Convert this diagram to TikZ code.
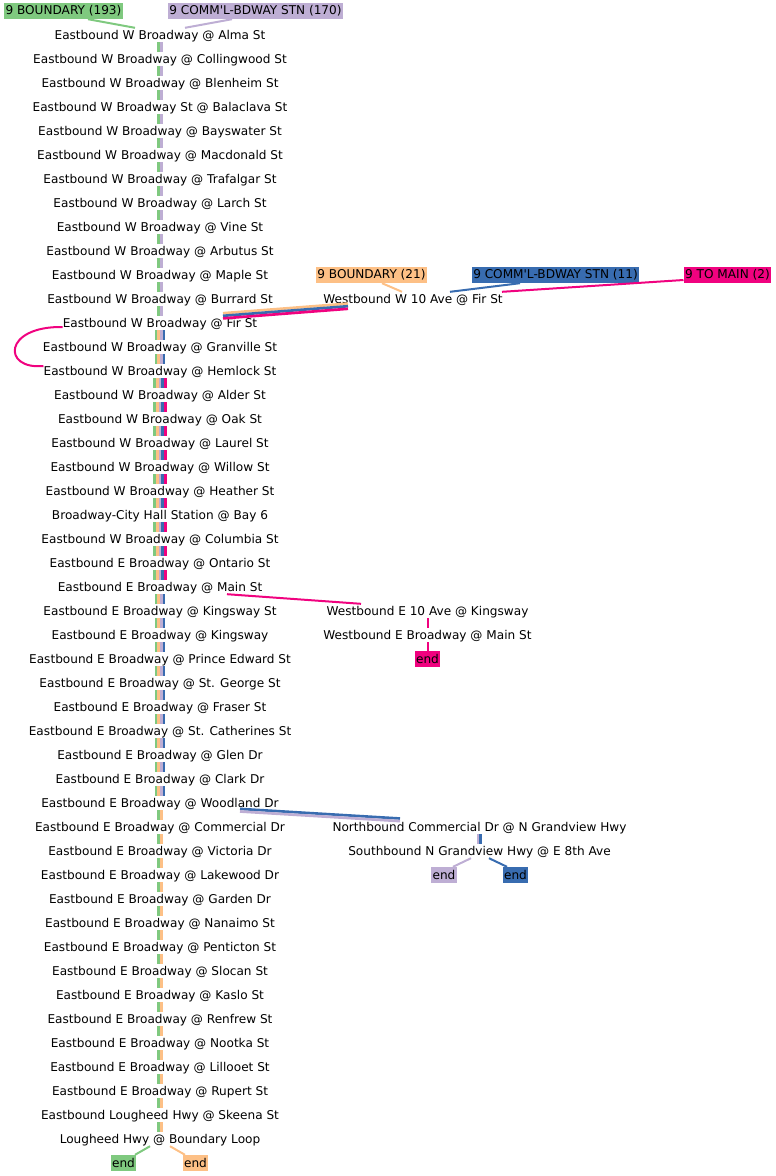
\documentclass[tikz,border=0pt]{standalone}
\usepackage{fontspec}
\setmainfont{DejaVu Sans}
\usepackage{xcolor}
\usetikzlibrary{positioning}

\definecolor{acgreen}{HTML}{7FC97F}
\definecolor{acpurple}{HTML}{BEAED4}
\definecolor{acorange}{HTML}{FDC086}
\definecolor{acblue}{HTML}{386CB0}
\definecolor{acpink}{HTML}{F0027F}

\begin{document}
\begin{tikzpicture}[x=1pt, y=-1pt, node distance=24pt, on grid, every node/.style={font=\fontsize{12.1}{14}\selectfont}]
    % Styles
    \tikzstyle{stopnode} = [inner sep=0pt, minimum height=14pt, text height=10.5pt, text depth=1.5pt]
    \tikzstyle{routetag} = [inner xsep=1.5pt, inner ysep=0pt, minimum height=16pt, text=black]
    \tikzstyle{strip} = [line width=2.67pt]
    \tikzstyle{link} = [line width=2pt]

    \useasboundingbox (0,0) rectangle (776,1176);

    % Route tags
    \node[routetag, fill=acgreen] (tag193) at (63.5,11) {9 BOUNDARY (193)};
    \node[routetag, fill=acpurple] (tag170) at (255.5,11) {9 COMM\textquotesingle L-BDWAY STN (170)};
    \node[routetag, fill=acorange] (tag21) at (371.5,275) {9 BOUNDARY (21)};
    \node[routetag, fill=acblue] (tag11) at (555.5,275) {9 COMM\textquotesingle L-BDWAY STN (11)};
    \node[routetag, fill=acpink] (tag2) at (727.5,275) {9 TO MAIN (2)};

    % Main column
    \node[stopnode] (s1) at (160,35) {Eastbound W Broadway @ Alma St};
    \node[stopnode, below=of s1] (s2) {Eastbound W Broadway @ Collingwood St};
    \node[stopnode, below=of s2] (s3) {Eastbound W Broadway @ Blenheim St};
    \node[stopnode, below=of s3] (s4) {Eastbound W Broadway St @ Balaclava St};
    \node[stopnode, below=of s4] (s5) {Eastbound W Broadway @ Bayswater St};
    \node[stopnode, below=of s5] (s6) {Eastbound W Broadway @ Macdonald St};
    \node[stopnode, below=of s6] (s7) {Eastbound W Broadway @ Trafalgar St};
    \node[stopnode, below=of s7] (s8) {Eastbound W Broadway @ Larch St};
    \node[stopnode, below=of s8] (s9) {Eastbound W Broadway @ Vine St};
    \node[stopnode, below=of s9] (s10) {Eastbound W Broadway @ Arbutus St};
    \node[stopnode, below=of s10] (s11) {Eastbound W Broadway @ Maple St};
    \node[stopnode, below=of s11] (s12) {Eastbound W Broadway @ Burrard St};
    \node[stopnode, below=of s12] (s13) {Eastbound W Broadway @ Fir St};
    \node[stopnode, below=of s13] (s14) {Eastbound W Broadway @ Granville St};
    \node[stopnode, below=of s14] (s15) {Eastbound W Broadway @ Hemlock St};
    \node[stopnode, below=of s15] (s16) {Eastbound W Broadway @ Alder St};
    \node[stopnode, below=of s16] (s17) {Eastbound W Broadway @ Oak St};
    \node[stopnode, below=of s17] (s18) {Eastbound W Broadway @ Laurel St};
    \node[stopnode, below=of s18] (s19) {Eastbound W Broadway @ Willow St};
    \node[stopnode, below=of s19] (s20) {Eastbound W Broadway @ Heather St};
    \node[stopnode, below=of s20] (s21) {Broadway-City Hall Station @ Bay 6};
    \node[stopnode, below=of s21] (s22) {Eastbound W Broadway @ Columbia St};
    \node[stopnode, below=of s22] (s23) {Eastbound E Broadway @ Ontario St};
    \node[stopnode, below=of s23] (s24) {Eastbound E Broadway @ Main St};
    \node[stopnode, below=of s24] (s25) {Eastbound E Broadway @ Kingsway St};
    \node[stopnode, below=of s25] (s26) {Eastbound E Broadway @ Kingsway};
    \node[stopnode, below=of s26] (s27) {Eastbound E Broadway @ Prince Edward St};
    \node[stopnode, below=of s27] (s28) {Eastbound E Broadway @ St. George St};
    \node[stopnode, below=of s28] (s29) {Eastbound E Broadway @ Fraser St};
    \node[stopnode, below=of s29] (s30) {Eastbound E Broadway @ St. Catherines St};
    \node[stopnode, below=of s30] (s31) {Eastbound E Broadway @ Glen Dr};
    \node[stopnode, below=of s31] (s32) {Eastbound E Broadway @ Clark Dr};
    \node[stopnode, below=of s32] (s33) {Eastbound E Broadway @ Woodland Dr};
    \node[stopnode, below=of s33] (s34) {Eastbound E Broadway @ Commercial Dr};
    \node[stopnode, below=of s34] (s35) {Eastbound E Broadway @ Victoria Dr};
    \node[stopnode, below=of s35] (s36) {Eastbound E Broadway @ Lakewood Dr};
    \node[stopnode, below=of s36] (s37) {Eastbound E Broadway @ Garden Dr};
    \node[stopnode, below=of s37] (s38) {Eastbound E Broadway @ Nanaimo St};
    \node[stopnode, below=of s38] (s39) {Eastbound E Broadway @ Penticton St};
    \node[stopnode, below=of s39] (s40) {Eastbound E Broadway @ Slocan St};
    \node[stopnode, below=of s40] (s41) {Eastbound E Broadway @ Kaslo St};
    \node[stopnode, below=of s41] (s42) {Eastbound E Broadway @ Renfrew St};
    \node[stopnode, below=of s42] (s43) {Eastbound E Broadway @ Nootka St};
    \node[stopnode, below=of s43] (s44) {Eastbound E Broadway @ Lillooet St};
    \node[stopnode, below=of s44] (s45) {Eastbound E Broadway @ Rupert St};
    \node[stopnode, below=of s45] (s46) {Eastbound Lougheed Hwy @ Skeena St};
    \node[stopnode, below=of s46] (s47) {Lougheed Hwy @ Boundary Loop};
    \node[routetag, fill=acgreen, below left=24pt and 36.5pt of s47] (endgreen) {end};
    \node[routetag, fill=acorange, below right=24pt and 35.5pt of s47] (endorange) {end};

    % Side branches
    \node[stopnode] (w10fir) at (413,299) {Westbound W 10 Ave @ Fir St};
    \node[stopnode] (w10king) at (427.5,611) {Westbound E 10 Ave @ Kingsway};
    \node[stopnode, below=of w10king] (wbmain) {Westbound E Broadway @ Main St};
    \node[routetag, fill=acpink, below=of wbmain] (endpink) {end};
    \node[stopnode] (ncomm) at (479.5,827) {Northbound Commercial Dr @ N Grandview Hwy};
    \node[stopnode, below=of ncomm] (sgrand) {Southbound N Grandview Hwy @ E 8th Ave};
    \node[routetag, fill=acpurple, below left=24pt and 35.5pt of sgrand] (endpurple) {end};
    \node[routetag, fill=acblue, below right=24pt and 36pt of sgrand] (endblue) {end};

    % Strips along the main column
    \foreach \i [evaluate=\i as \j using int(\i+1)] in {1,...,12} {
        \foreach \c/\o in {acgreen/-1.33, acpurple/1.33}
            \draw[strip, \c] ([xshift=\o pt]s\i.south) -- ([xshift=\o pt]s\j.north);
    }
    \foreach \i [evaluate=\i as \j using int(\i+1)] in {13,14,24,25,...,32} {
        \foreach \c/\o in {acgreen/-4, acorange/-1.33, acpurple/1.33, acblue/4}
            \draw[strip, \c] ([xshift=\o pt]s\i.south) -- ([xshift=\o pt]s\j.north);
    }
    \foreach \i [evaluate=\i as \j using int(\i+1)] in {15,...,23} {
        \foreach \c/\o in {acgreen/-5.33, acorange/-2.67, acpurple/0, acblue/2.67, acpink/5.33}
            \draw[strip, \c] ([xshift=\o pt]s\i.south) -- ([xshift=\o pt]s\j.north);
    }
    \foreach \i [evaluate=\i as \j using int(\i+1)] in {33,...,46} {
        \foreach \c/\o in {acgreen/-1.33, acorange/1.33}
            \draw[strip, \c] ([xshift=\o pt]s\i.south) -- ([xshift=\o pt]s\j.north);
    }

    % Connections
    \draw[link, acgreen] ([xshift=24.5pt]tag193.south) -- ([xshift=-25pt]s1.north);
    \draw[link, acpurple] ([xshift=-23.5pt]tag170.south) -- ([xshift=25pt]s1.north);

    \draw[link, acorange] ([xshift=10.5pt]tag21.south) -- ([xshift=-11pt]w10fir.north);
    \draw[link, acblue] ([xshift=-35.5pt]tag11.south) -- ([xshift=37pt]w10fir.north);
    \draw[link, acpink] ([yshift=-5pt]tag2.west) -- ([xshift=89pt]w10fir.north);

    \draw[strip, acorange] ([xshift=-65pt, yshift=2.6pt]w10fir.south) -- ([xshift=63pt, yshift=2.6pt]s13.north);
    \draw[strip, acblue] ([xshift=-65pt]w10fir.south) -- ([xshift=63pt]s13.north);
    \draw[strip, acpink] ([xshift=-65pt, yshift=-2.6pt]w10fir.south) -- ([xshift=63pt, yshift=-2.6pt]s13.north);

    \draw[link, acpink] ([yshift=-4pt]s13.west) .. controls (3,326) and (2,370) .. ([yshift=5pt]s15.west);

    \draw[link, acpink] ([xshift=67pt]s24.south) -- ([xshift=-66.5pt]w10king.north);
    \draw[link, acpink] (w10king.south) -- (wbmain.north);
    \draw[link, acpink] (wbmain.south) -- (endpink.north);

    \draw[strip, acblue] ([xshift=80pt, yshift=1.3pt]s33.south) -- ([xshift=-79.5pt, yshift=1.3pt]ncomm.north);
    \draw[strip, acpurple] ([xshift=80pt, yshift=-1.3pt]s33.south) -- ([xshift=-79.5pt, yshift=-1.3pt]ncomm.north);
    \draw[strip, acpurple] ([xshift=-1.33pt]ncomm.south) -- ([xshift=-1.33pt]sgrand.north);
    \draw[strip, acblue] ([xshift=1.33pt]ncomm.south) -- ([xshift=1.33pt]sgrand.north);
    \draw[link, acpurple] ([xshift=-8.5pt]sgrand.south) -- ([xshift=9pt]endpurple.north);
    \draw[link, acblue] ([xshift=9.5pt]sgrand.south) -- ([xshift=-8.5pt]endblue.north);

    \draw[link, acgreen] ([xshift=-10pt]s47.south) -- ([xshift=11.5pt]endgreen.north);
    \draw[link, acorange] ([xshift=10pt]s47.south) -- ([xshift=-10.5pt]endorange.north);
\end{tikzpicture}
\end{document}
